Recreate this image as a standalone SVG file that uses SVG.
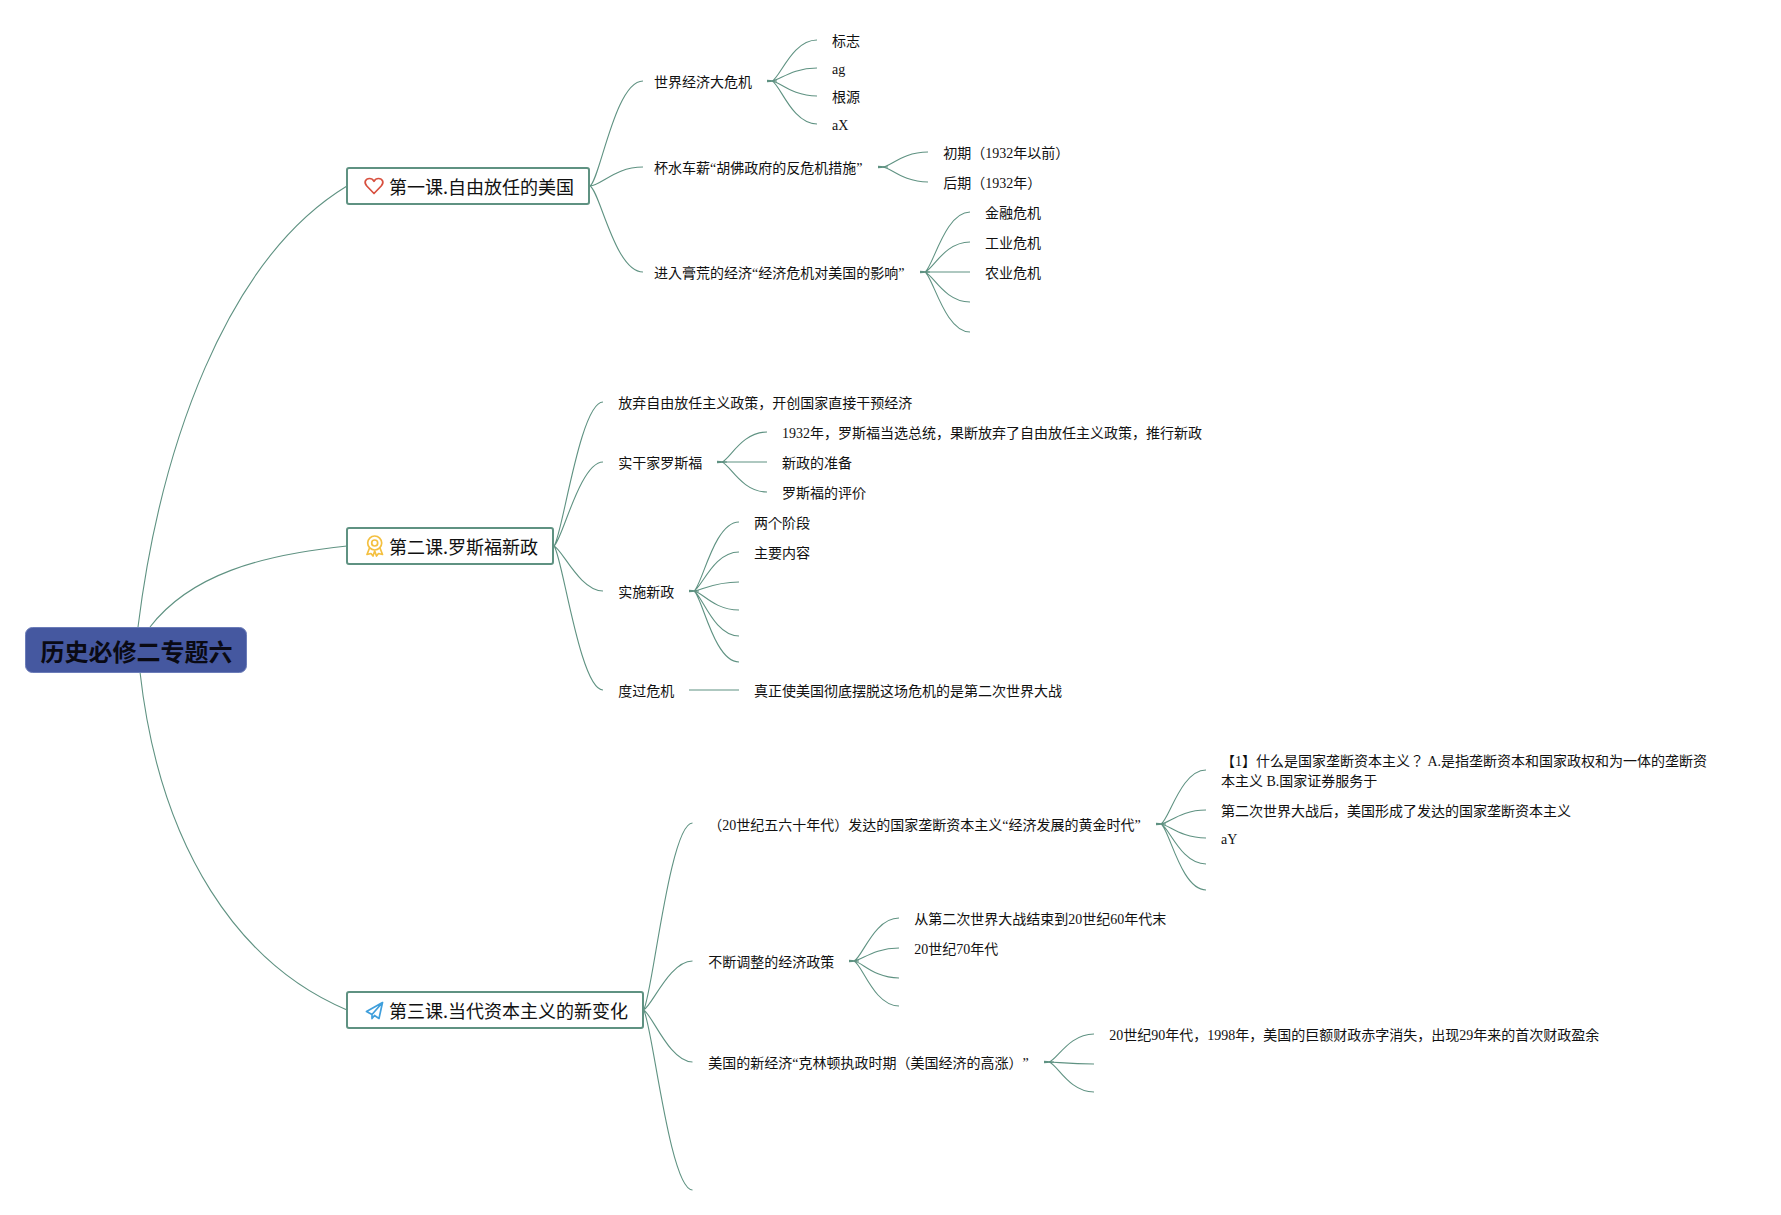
<svg xmlns="http://www.w3.org/2000/svg" width="1781" height="1215" viewBox="0 0 1781 1215">
<style>
text{font-family:"Liberation Serif","Noto Sans CJK JP",serif;fill:#111}
.t{font-size:14px}
.h{font-size:18px;font-family:"Noto Sans CJK SC","Liberation Sans",sans-serif}
.r{font-size:24px;font-weight:700;font-family:"Noto Sans CJK SC","Liberation Sans",sans-serif;fill:#0a0a14}
.box{fill:#fff;stroke:#5f9282;stroke-width:2}
.c{fill:none;stroke:#5f9282;stroke-width:1.1}
.s{fill:#5f9282;stroke:none}
.ic{fill:none;stroke-width:1.7;stroke-linejoin:round;stroke-linecap:round}
</style>
<rect width="1781" height="1215" fill="#fff"/>
<g id="connectors">
<path class="c" d="M138 627C160 450 225 260 347 186"/>
<path class="c" d="M150 627C190 575 260 555 347 546"/>
<path class="c" d="M140 672C160 850 240 965 347 1010"/>
<path class="c" d="M590 186c10 -6 25 -105 53 -105M590 186c12 -1 25 -19 53 -19M590 186c10 5 25 86 53 86"/>
<path class="c" d="M772 81c8 -3 20 -41 45 -41M772 81c8 -1 20 -13 45 -13M772 81c8 1 20 15 45 15M772 81c8 3 20 43 45 43"/>
<path class="s" d="M767 79.800l10 .7v1l-10 .7z"/>
<path class="c" d="M883 167c8 -1 20 -15 45 -15M883 167c8 1 20 15 45 15"/>
<path class="s" d="M878 165.800l10 .7v1l-10 .7z"/>
<path class="c" d="M925 272c8 -5 20 -60 45 -60M925 272c8 -3 20 -30 45 -30M925 272h45M925 272c8 3 20 30 45 30M925 272c8 5 20 60 45 60"/>
<path class="s" d="M920 270.800l10 .7v1l-10 .7z"/>
<path class="c" d="M554 546c8 -8 26 -144 49 -144M554 546c8 -5 26 -84 49 -84M554 546c8 3 26 45 49 45M554 546c8 8 26 144 49 144"/>
<path class="c" d="M722 462c8 -3 20 -30 45 -30M722 462h45M722 462c8 3 20 30 45 30"/>
<path class="s" d="M717 460.800l10 .7v1l-10 .7z"/>
<path class="c" d="M694 591c8 -5 20 -69 45 -69M694 591c8 -4 20 -39 45 -39M694 591c8 -1 20 -9 45 -9M694 591c8 1 20 19 45 19M694 591c8 4 20 45 45 45M694 591c8 5 20 71 45 71"/>
<path class="s" d="M689 589.800l10 .7v1l-10 .7z"/>
<path class="c" d="M689 690h50"/>
<path class="c" d="M643.500 1010c8 -8 26 -187 49 -187M643.500 1010c8 -3 26 -49 49 -49M643.500 1010c8 3 26 52 49 52M643.500 1010c8 8 26 180 49 180"/>
<path class="c" d="M1161 824c8 -4 20 -54 45 -54M1161 824c8 -1 20 -14 45 -14M1161 824c8 1 20 14 45 14M1161 824c8 3 20 40 45 40M1161 824c8 4 20 66 45 66"/>
<path class="s" d="M1156 822.800l10 .7v1l-10 .7z"/>
<path class="c" d="M854 961c8 -3 20 -43 45 -43M854 961c8 -1 20 -13 45 -13M854 961c8 1 20 17 45 17M854 961c8 3 20 45 45 45"/>
<path class="s" d="M849 959.800l10 .7v1l-10 .7z"/>
<path class="c" d="M1049 1062c8 -2 20 -28 45 -28M1049 1062c8 0 20 2 45 2M1049 1062c8 2 20 30 45 30"/>
<path class="s" d="M1044 1060.800l10 .7v1l-10 .7z"/>
</g>
<g id="root"><rect x="25.500" y="627.500" width="221" height="45" rx="7" fill="#4558a0" stroke="#6b7cb8" stroke-width="1"/><text class="r" x="40.500" y="661">历史必修二专题六</text></g>
<g id="lesson1"><rect class="box" x="347" y="168" width="242" height="36" rx="2"/>
<path class="ic" stroke="#d8503f" d="M374 193.500L366.800 186C363.500 182.500 365.500 178.500 369.500 178.500C371.500 178.500 373 179.500 374 181.300C375 179.500 376.500 178.500 378.500 178.500C382.500 178.500 384.500 182.500 381.200 186Z"/>
<text class="h" x="389" y="194">第一课.自由放任的美国</text></g>
<g id="lesson2"><rect class="box" x="347" y="528" width="206" height="36" rx="2"/>
<g class="ic" stroke="#f4c040"><circle cx="374.700" cy="543" r="7"/><circle cx="374.700" cy="543" r="3"/><path d="M369.500 548L367 554.500L371 553.500L373 556L374.700 551L376.500 556L378.500 553.500L382.500 554.500L380 548"/></g>
<text class="h" x="389" y="554">第二课.罗斯福新政</text></g>
<g id="lesson3"><rect class="box" x="347" y="992" width="296" height="36" rx="2"/>
<path class="ic" stroke="#3f9fdc" d="M382.500 1002.500L366.500 1011.500L372 1014.500ZM382.500 1002.500L379 1018.500L374.500 1015.500L372 1018.500V1014.500"/>
<text class="h" x="389" y="1018">第三课.当代资本主义的新变化</text></g>
<g id="n-a"><text class="t" x="654" y="87">世界经济大危机</text></g>
<g id="n-a1"><text class="t" x="832" y="46">标志</text></g>
<g id="n-a2"><text class="t" x="832" y="74">ag</text></g>
<g id="n-a3"><text class="t" x="832" y="102">根源</text></g>
<g id="n-a4"><text class="t" x="832" y="130">aX</text></g>
<g id="n-b"><text class="t" x="654" y="173">杯水车薪“胡佛政府的反危机措施”</text></g>
<g id="n-b1"><text class="t" x="943.300" y="158">初期（1932年以前）</text></g>
<g id="n-b2"><text class="t" x="943.300" y="188">后期（1932年）</text></g>
<g id="n-c"><text class="t" x="654" y="278">进入膏荒的经济“经济危机对美国的影响”</text></g>
<g id="n-c1"><text class="t" x="985" y="218">金融危机</text></g>
<g id="n-c2"><text class="t" x="985" y="248">工业危机</text></g>
<g id="n-c3"><text class="t" x="985" y="278">农业危机</text></g>
<g id="n-d"><text class="t" x="618.300" y="408">放弃自由放任主义政策，开创国家直接干预经济</text></g>
<g id="n-e"><text class="t" x="618.300" y="468">实干家罗斯福</text></g>
<g id="n-e1"><text class="t" x="782" y="438">1932年，罗斯福当选总统，果断放弃了自由放任主义政策，推行新政</text></g>
<g id="n-e2"><text class="t" x="782" y="468">新政的准备</text></g>
<g id="n-e3"><text class="t" x="782" y="498">罗斯福的评价</text></g>
<g id="n-f"><text class="t" x="618.300" y="597">实施新政</text></g>
<g id="n-f1"><text class="t" x="754" y="528">两个阶段</text></g>
<g id="n-f2"><text class="t" x="754" y="558">主要内容</text></g>
<g id="n-g"><text class="t" x="618.300" y="696">度过危机</text></g>
<g id="n-g1"><text class="t" x="754" y="696">真正使美国彻底摆脱这场危机的是第二次世界大战</text></g>
<g id="n-h"><text class="t" x="708.300" y="830">（20世纪五六十年代）发达的国家垄断资本主义“经济发展的黄金时代”</text></g>
<g id="n-h1"><text class="t" x="1221" y="766">【1】什么是国家垄断资本主义？ A.是指垄断资本和国家政权和为一体的垄断资</text><text class="t" x="1221" y="786">本主义 B.国家证券服务于</text></g>
<g id="n-h2"><text class="t" x="1221" y="816">第二次世界大战后，美国形成了发达的国家垄断资本主义</text></g>
<g id="n-h3"><text class="t" x="1221" y="844">aY</text></g>
<g id="n-i"><text class="t" x="708.300" y="966.500">不断调整的经济政策</text></g>
<g id="n-i1"><text class="t" x="914.300" y="924">从第二次世界大战结束到20世纪60年代末</text></g>
<g id="n-i2"><text class="t" x="914.300" y="954">20世纪70年代</text></g>
<g id="n-j"><text class="t" x="708.300" y="1068">美国的新经济“克林顿执政时期（美国经济的高涨）<tspan dx="7">”</tspan></text></g>
<g id="n-j1"><text class="t" x="1109.300" y="1040">20世纪90年代，1998年，美国的巨额财政赤字消失，出现29年来的首次财政盈余</text></g>
</svg>
